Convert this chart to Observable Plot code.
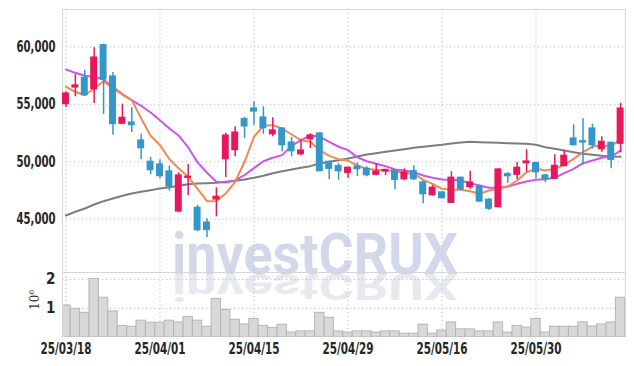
<!DOCTYPE html>
<html><head><meta charset="utf-8">
<script src="https://cdn.jsdelivr.net/npm/d3@7"></script>
<script src="https://cdn.jsdelivr.net/npm/@observablehq/plot@0.6"></script>
<style>
body{margin:0;background:#fff;}
#wrap{position:relative;width:634px;height:366px;overflow:hidden;background:#fff;}
.layer{position:absolute;left:0;}
#vlabel{position:absolute;left:24px;top:294px;width:16px;height:16px;font-family:"DejaVu Serif",serif;font-size:12px;color:#333;transform:rotate(-90deg);transform-origin:center;white-space:nowrap;line-height:16px;text-align:center;}
</style></head><body><div id="wrap"></div>
<script>
// ---- data ----
const dates = ["25/03/18","25/03/19","25/03/20","25/03/21","25/03/24","25/03/25","25/03/26","25/03/27","25/03/28","25/03/31",
"25/04/01","25/04/02","25/04/03","25/04/04","25/04/07","25/04/08","25/04/09","25/04/10","25/04/11","25/04/14",
"25/04/15","25/04/16","25/04/17","25/04/18","25/04/21","25/04/22","25/04/23","25/04/24","25/04/25","25/04/28",
"25/04/29","25/04/30","25/05/02","25/05/07","25/05/08","25/05/09","25/05/12","25/05/13","25/05/14","25/05/15",
"25/05/16","25/05/19","25/05/20","25/05/21","25/05/22","25/05/23","25/05/26","25/05/27","25/05/28","25/05/29",
"25/05/30","25/06/02","25/06/04","25/06/05","25/06/09","25/06/10","25/06/11","25/06/12","25/06/13","25/06/16"];
const open  = [55020,56470,57320,56320,60160,57430,53310,53420,51860,50000,49770,49160,45670,48600,45990,44710,46720,50230,51010,53710,
54640,53860,52400,52900,51680,50660,51970,52470,50000,49620,49040,49590,49390,48870,49160,49240,48480,49180,48200,47090,
47330,46430,48610,47790,47850,46690,46050,48920,48870,49880,49880,48810,48520,49620,52030,51790,52900,51100,51660,51570];
const high  = [56100,57600,57980,59930,60240,57780,55020,54700,52400,50380,50170,49620,49040,49770,46220,45050,47740,52490,53050,53860,
55230,54790,53830,52900,52120,51920,52440,52500,50000,49830,49530,49910,49570,49850,49300,49240,49390,49650,48350,47960,
47400,49130,48660,49180,47960,46800,49390,49070,49940,51050,49970,48890,50610,50980,53220,53750,53280,52180,51660,55100];
const low   = [54730,55660,55750,55080,54120,52320,53310,52550,50200,48870,48520,47440,45560,47040,43900,43400,45210,48630,50440,52030,
53190,52400,52180,50870,50440,50520,51160,49150,48430,48400,48570,48720,48690,48780,48780,47560,48370,48370,46340,47000,
46780,46370,47500,47610,46460,45760,45990,48140,48460,49090,48520,48170,48520,49590,51390,49700,51100,50840,49390,50780];
const close = [55950,56650,55800,59080,57170,53280,53830,53190,51190,49270,48750,47850,48810,48700,44040,44060,46950,52290,52550,53080,
54380,52930,52730,51450,50920,50980,52290,49180,49390,49180,49480,49360,48830,49160,49300,48430,49070,48480,47180,47740,
46830,48610,47610,48200,46540,45910,49330,48750,49480,50030,49090,48460,49650,50520,51450,51680,51450,51740,50170,54640];
const volume = [1.10,0.99,0.85,2.02,1.37,0.90,0.40,0.37,0.58,0.51,0.51,0.58,0.52,0.71,0.58,0.37,1.33,0.95,0.61,0.45,
0.64,0.40,0.33,0.44,0.17,0.21,0.21,0.85,0.68,0.21,0.17,0.21,0.21,0.17,0.21,0.21,0.13,0.13,0.44,0.13,
0.24,0.52,0.28,0.28,0.21,0.21,0.52,0.17,0.40,0.34,0.64,0.17,0.37,0.37,0.37,0.52,0.38,0.45,0.52,1.37]; // x 10^6
const ma5  = [56530,56100,55800,56380,57020,56380,55860,55370,53770,52270,51450,50230,49420,48700,47650,46570,46580,47240,48260,50000,
52180,53140,53190,52900,52380,51880,51740,51010,50520,50230,50110,49680,49390,49300,49240,49180,49010,48960,48430,48080,
47650,47560,47560,47440,47210,47500,47650,47850,48370,49090,49390,49240,49390,49740,50260,50840,51330,51420,51330,52000];
const ma10 = [58040,57750,57490,57400,57170,56500,55900,55370,54880,54290,53620,52900,52270,51250,49950,49050,48260,48200,48380,48850,
49450,50050,50350,50580,51390,51880,52300,52180,51740,51310,51020,50400,50050,49830,49620,49330,49240,49090,48810,48610,
48460,48430,48370,48140,47940,47740,47740,47850,48080,48280,48430,48490,48610,49010,49390,49880,50110,50350,50460,50980];
const ma60 = [45320,45650,45930,46280,46570,46800,47040,47240,47390,47530,47670,47790,47910,48050,48110,48140,48170,48260,48350,48460,
48610,48780,49010,49180,49330,49480,49620,49860,50000,50140,50290,50460,50640,50750,50870,50980,51100,51220,51310,51390,
51480,51590,51680,51740,51710,51680,51660,51620,51590,51570,51480,51270,51130,50980,50840,50700,50610,50520,50460,50440];
const tickDates = ["25/03/18","25/04/01","25/04/15","25/04/29","25/05/16","25/05/30"];
const priceTicks = [45000,50000,55000,60000];
const volTicks = [1,2];
const watermark = "investCRUX";

// ---- build ----
const rows = dates.map((d,i)=>({i, date:d, open:open[i], high:high[i], low:low[i], close:close[i],
  volume:volume[i], ma5:ma5[i], ma10:ma10[i], ma60:ma60[i]}));
const UP = "#e8175d", DOWN = "#3398c9";
const col = d => d.close >= d.open ? UP : DOWN;
const tickIdx = tickDates.map(d => dates.indexOf(d));
const xDomain = [-0.37, 59.52];
const FONT = "'DejaVu Sans Condensed','DejaVu Sans',sans-serif";
const gridStyle = {stroke:"#b9bdd0", strokeOpacity:1, strokeDasharray:"1.2,2.8", strokeWidth:1};
const baseStyle = {background:"transparent", fontFamily:FONT, fontSize:"15px", fontWeight:"600", color:"#262626", overflow:"visible", maxWidth:"none"};

const wrap = document.getElementById("wrap");

// watermark layer (behind), reflection drawn as a <use> copy of the same text
const wm = d3.create("svg").attr("class","layer").attr("width",634).attr("height",366).style("top","0px");
wm.append("defs").append("text").attr("id","wmtext").text(watermark).attr("x",172).attr("y",274)
  .attr("textLength",286).attr("lengthAdjust","spacingAndGlyphs")
  .attr("font-family","Roboto,'Open Sans',sans-serif").attr("font-weight","bold")
  .attr("font-size",57);
wm.append("use").attr("href","#wmtext")
  .attr("transform","translate(0,274) scale(1,-0.66) translate(0,-274)")
  .attr("fill","#e7e9f1");
wm.append("text").text(watermark).attr("x",172).attr("y",274)
  .attr("textLength",286).attr("lengthAdjust","spacingAndGlyphs")
  .attr("font-family","Roboto,'Open Sans',sans-serif").attr("font-weight","bold")
  .attr("font-size",57).attr("fill","#d2d8ea");
wrap.appendChild(wm.node());

const main = Plot.plot({
  width:634, height:272, marginLeft:62, marginRight:9, marginTop:9, marginBottom:0,
  style: baseStyle,
  x:{domain:xDomain, axis:null},
  y:{domain:[40358,63265], axis:null},
  marks:[
    Plot.gridY(priceTicks, gridStyle),
    Plot.gridX(tickIdx, gridStyle),
    Plot.frame({stroke:"#d6d6d6"}),
    Plot.axisY(priceTicks, {tickSize:0, tickPadding:7, tickFormat:d3.format(","), label:null}),
    Plot.line(rows, {x:"i", y:"ma60", stroke:"#7d7d7d", strokeWidth:2, clip:true}),
    Plot.line(rows, {x:"i", y:"ma10", stroke:"#cc55ea", strokeWidth:2, clip:true}),
    Plot.line(rows, {x:"i", y:"ma5", stroke:"#f08a4e", strokeWidth:2, clip:true}),
    Plot.ruleX(rows, {x:"i", y1:"low", y2:"high", stroke:col, strokeWidth:1.5}),
    Plot.rect(rows, {x1:d=>d.i-0.37, x2:d=>d.i+0.37, y1:"open", y2:"close", fill:col, insetTop:-0.6, insetBottom:-0.6})
  ]
});
main.classList.add("layer"); main.style.top = "0px";
wrap.appendChild(main);
d3.select(main).selectAll("g[aria-label='y-axis tick label'] text")
  .attr("textLength", 39).attr("lengthAdjust","spacingAndGlyphs");

const vol = Plot.plot({
  width:634, height:94, marginLeft:62, marginRight:9, marginTop:0, marginBottom:29,
  style: baseStyle,
  x:{domain:xDomain, axis:null},
  y:{domain:[0,2.24], axis:null},
  marks:[
    Plot.gridY(volTicks, gridStyle),
    Plot.gridX(tickIdx, gridStyle),
    Plot.rect(rows, {x1:d=>d.i-0.5, x2:d=>d.i+0.5, y1:0, y2:"volume", fill:"#d8d8d8", stroke:"#b5b5b5", strokeWidth:1, clip:true}),
    Plot.ruleX(xDomain, {stroke:"#d6d6d6"}),
    Plot.axisY(volTicks, {tickSize:0, tickPadding:7, label:null}),
    Plot.axisX(tickIdx, {tickSize:0, tickPadding:6, tickFormat:i=>dates[i], label:null})
  ]
});
vol.classList.add("layer"); vol.style.top = "272px";
wrap.appendChild(vol);
d3.select(vol).selectAll("g[aria-label='x-axis tick label'] text")
  .attr("textLength", 51).attr("lengthAdjust","spacingAndGlyphs");

const lab = document.createElement("div");
lab.id = "vlabel"; lab.innerHTML = "10<sup style='font-size:8px'>6</sup>";
wrap.appendChild(lab);
</script>
</body></html>
